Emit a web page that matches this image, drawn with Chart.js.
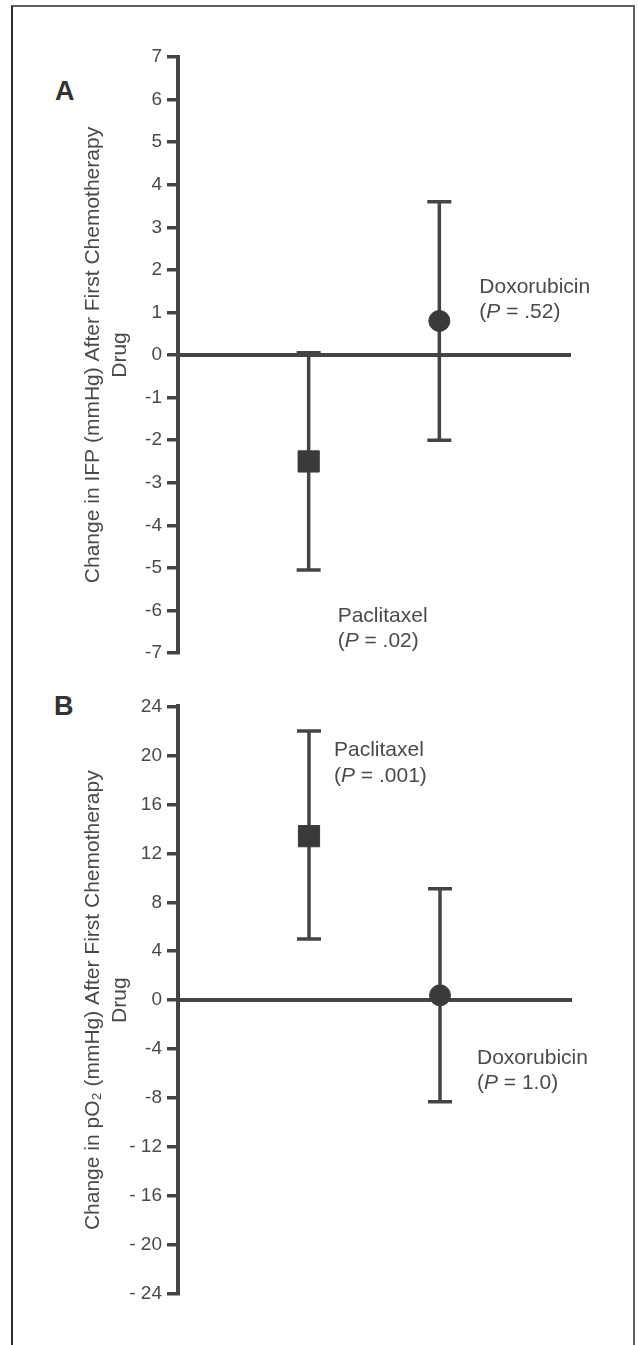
<!DOCTYPE html>
<html>
<head>
<meta charset="utf-8">
<script src="https://cdn.jsdelivr.net/npm/chart.js@4.4.1/dist/chart.umd.min.js"></script>
<style>
  html, body { margin: 0; padding: 0; background: #fff; overflow: hidden; }
  body { width: 638px; height: 1345px; position: relative; }
  .frame { position: absolute; left: 11px; top: 5px; width: 620px; height: 1400px;
           border: 2px solid #606060; border-left-color: #2e2e2e; }
  .panel-letter { position: absolute; font: bold 27px 'Liberation Sans', Arial, sans-serif; color: #333; }
  canvas { position: absolute; left: 0; }
</style>
</head>
<body>
<div class="frame"></div>
<div class="panel-letter" style="left:55px; top:76px">A</div>
<div class="panel-letter" style="left:54px; top:691px">B</div>
<canvas id="chartA" width="638" height="690" style="top:0"></canvas>
<canvas id="chartB" width="638" height="655" style="top:690px"></canvas>
<script>
const categories = ['Paclitaxel', 'Doxorubicin'];

// panel A: IFP change
const meanA = [-2.5, 0.8];
const lowA = [-5.05, -2.0];
const highA = [0.05, 3.6];
const pValuesA = ['.02', '.52'];
const tickValuesA = [7, 6, 5, 4, 3, 2, 1, 0, -1, -2, -3, -4, -5, -6, -7];
const tickLabelsA = ['7', '6', '5', '4', '3', '2', '1', '0', '-1', '-2', '-3', '-4', '-5', '-6', '-7'];

// panel B: pO2 change
const meanB = [13.4, 0.4];
const lowB = [5.0, -8.3];
const highB = [22.0, 9.1];
const pValuesB = ['.001', '1.0'];
const tickValuesB = [24, 20, 16, 12, 8, 4, 0, -4, -8, -12, -16, -20, -24];
const tickLabelsB = ['24', '20', '16', '12', '8', '4', '0', '-4', '-8', '- 12', '- 16', '- 20', '- 24'];

const INK = '#444';
const TEXT = '#4a4a4a';
const FONT = "'Liberation Sans', Arial, sans-serif";
Chart.defaults.font.family = FONT;

function makePanel(id, cfg) {
    const errorBars = {
        id: 'errorBars',
        beforeDatasetsDraw(chart) {
            const { ctx, scales: { x, y } } = chart;
            ctx.save();
            ctx.strokeStyle = INK;
            ctx.lineWidth = 3.5;
            ctx.lineCap = 'butt';
            cfg.mean.forEach((m, i) => {
                const px = x.getPixelForValue(i + 1);
                const top = y.getPixelForValue(cfg.high[i]);
                const bot = y.getPixelForValue(cfg.low[i]);
                ctx.beginPath();
                ctx.moveTo(px, top);
                ctx.lineTo(px, bot);
                ctx.moveTo(px - 12, top);
                ctx.lineTo(px + 12, top);
                ctx.moveTo(px - 12, bot);
                ctx.lineTo(px + 12, bot);
                ctx.stroke();
            });
            ctx.restore();
        }
    };

    const drugLabels = {
        id: 'drugLabels',
        afterDatasetsDraw(chart) {
            const { ctx, scales: { x, y } } = chart;
            ctx.save();
            ctx.fillStyle = TEXT;
            ctx.textBaseline = 'alphabetic';
            ctx.textAlign = 'left';
            categories.forEach((name, i) => {
                const pl = cfg.place[i];
                const ref = pl.anchor === 'low' ? cfg.low[i] : pl.anchor === 'high' ? cfg.high[i] : cfg.mean[i];
                const tx = x.getPixelForValue(i + 1) + pl.dx;
                const ty = y.getPixelForValue(ref) + pl.dy;
                ctx.font = '21px ' + FONT;
                ctx.fillText(name, tx, ty);
                let cx = tx;
                const y2 = ty + 25.5;
                ctx.fillText('(', cx, y2);
                cx += ctx.measureText('(').width;
                ctx.font = 'italic 21px ' + FONT;
                ctx.fillText('P', cx, y2);
                cx += ctx.measureText('P').width;
                ctx.font = '21px ' + FONT;
                ctx.fillText(' = ' + cfg.pValues[i] + ')', cx, y2);
            });
            ctx.restore();
        }
    };

    return new Chart(document.getElementById(id), {
        type: 'scatter',
        data: {
            datasets: [{
                data: cfg.mean.map((m, i) => ({ x: i + 1, y: m })),
                pointStyle: ['rect', 'circle'],
                pointRadius: [15, 10.5],
                pointBackgroundColor: '#3a3a3a',
                pointBorderColor: '#3a3a3a',
                pointBorderWidth: 1,
                showLine: false
            }]
        },
        options: {
            responsive: false,
            devicePixelRatio: 1,
            animation: false,
            events: [],
            layout: { padding: cfg.padding },
            plugins: { legend: { display: false }, tooltip: { enabled: false } },
            scales: {
                x: {
                    type: 'linear',
                    min: 0,
                    max: categories.length + 1,
                    position: { y: 0 },
                    ticks: { display: false },
                    grid: { display: false },
                    border: { display: true, color: INK, width: 4 }
                },
                y: {
                    type: 'linear',
                    position: 'left',
                    min: cfg.ticks[cfg.ticks.length - 1],
                    max: cfg.ticks[0],
                    afterBuildTicks: s => { s.ticks = cfg.ticks.map(v => ({ value: v })); },
                    afterFit: s => { s.width = 178; },
                    ticks: {
                        color: TEXT,
                        font: { size: 19 },
                        padding: 5,
                        callback: v => cfg.tickLabels[cfg.ticks.indexOf(v)]
                    },
                    grid: {
                        display: true,
                        drawOnChartArea: false,
                        drawTicks: true,
                        tickLength: 11,
                        lineWidth: 3.5,
                        color: INK
                    },
                    border: { display: true, color: INK, width: 4 },
                    title: {
                        display: true,
                        text: cfg.title,
                        color: TEXT,
                        font: { size: 21, lineHeight: 27 / 21 },
                        padding: { top: 80, bottom: 0 }
                    }
                }
            }
        },
        plugins: [errorBars, drugLabels]
    });
}

makePanel('chartA', {
    mean: meanA, low: lowA, high: highA, pValues: pValuesA,
    ticks: tickValuesA, tickLabels: tickLabelsA,
    title: ['Change in IFP (mmHg) After First Chemotherapy', 'Drug'],
    padding: { top: 57, bottom: 37, left: 0, right: 68 },
    place: [{ anchor: 'low', dx: 29, dy: 52 }, { anchor: 'mean', dx: 40, dy: -28 }]
});

makePanel('chartB', {
    mean: meanB, low: lowB, high: highB, pValues: pValuesB,
    ticks: tickValuesB, tickLabels: tickLabelsB,
    title: ['Change in pO\u2082 (mmHg) After First Chemotherapy', 'Drug'],
    padding: { top: 16, bottom: 51, left: 0, right: 67 },
    place: [{ anchor: 'high', dx: 25, dy: 25.5 }, { anchor: 'low', dx: 37, dy: -38 }]
});
</script>
</body>
</html>
